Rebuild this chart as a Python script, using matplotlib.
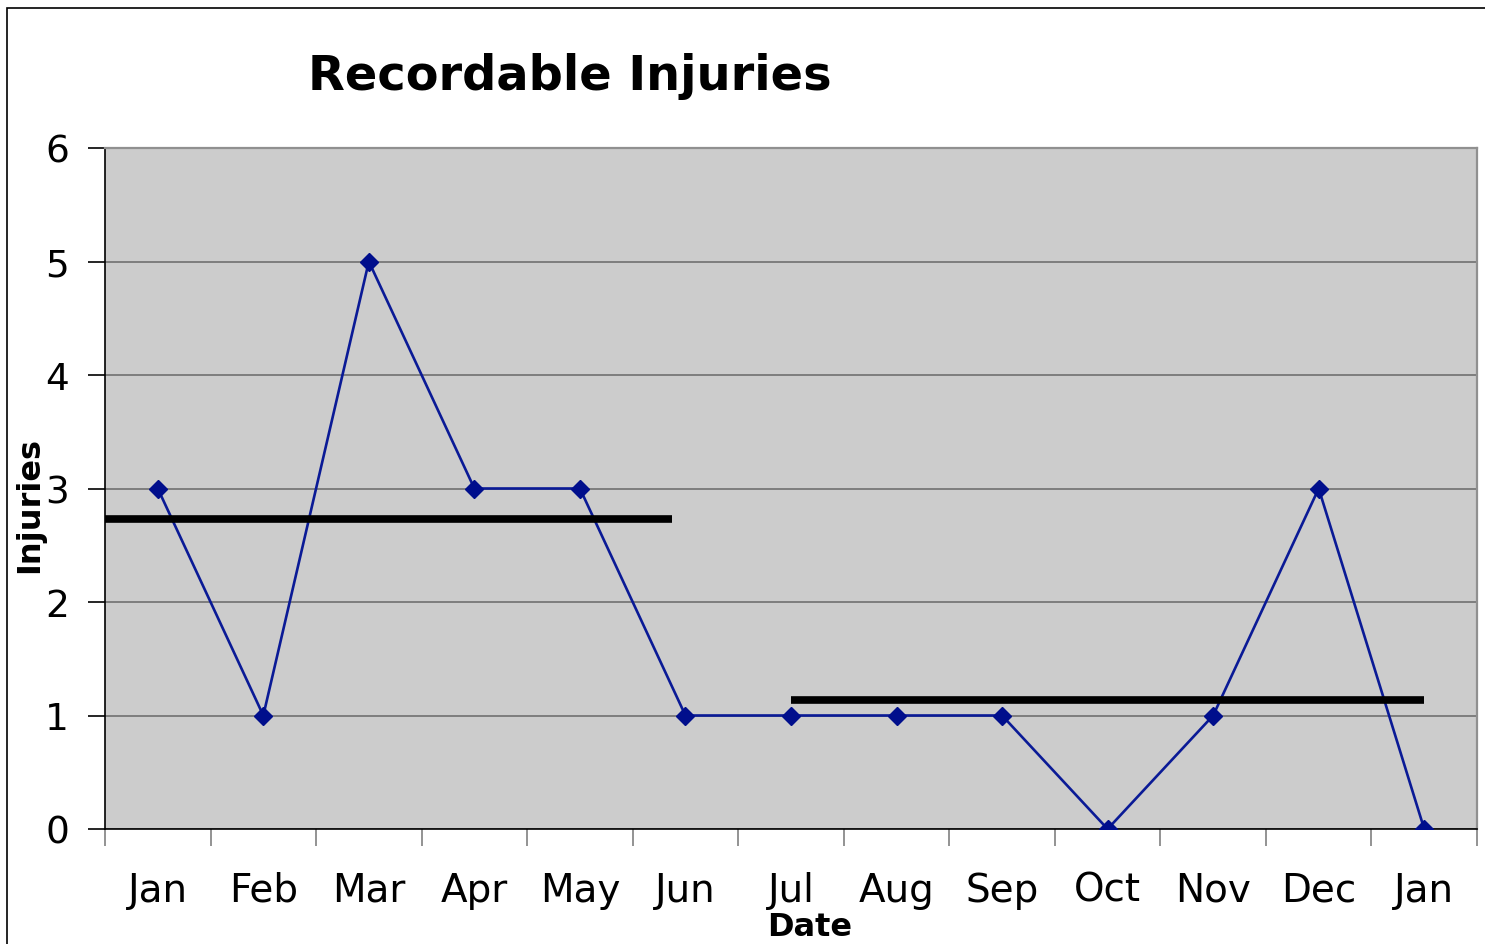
import matplotlib
matplotlib.use("Agg")
import matplotlib.pyplot as plt
from matplotlib.patches import Rectangle

months = ["Jan", "Feb", "Mar", "Apr", "May", "Jun", "Jul", "Aug", "Sep", "Oct", "Nov", "Dec", "Jan"]
injuries = [3, 1, 5, 3, 3, 1, 1, 1, 1, 0, 1, 3, 0]
mean1_value = 2.73
mean1_span = (-0.5, 4.87)
mean2_value = 1.14
mean2_span = (6.0, 12.0)

plt.rcParams['font.family'] = ['DejaVu Sans']

fig = plt.figure(figsize=(14.85, 9.45), dpi=100)
fig.patches.append(Rectangle((7/1485, -0.1), 1.2, (945-9)/945 + 0.1, transform=fig.transFigure,
                             fill=False, edgecolor='black', linewidth=1.2))
ax = fig.add_axes([105/1485, 115/945, 1372/1485, 681/945])
ax.set_facecolor('#CCCCCC')

x = list(range(len(months)))
ax.set_xlim(-0.5, len(months) - 0.5)
ax.set_ylim(0, 6)

ax.grid(axis='y', color='#707070', linewidth=1.2)
ax.set_axisbelow(True)

ax.plot(x, injuries, color='#0A1A96', linewidth=1.9, marker='D', markersize=9,
        markerfacecolor='#000E8C', markeredgecolor='#000E8C', zorder=3)
ax.hlines(mean1_value, mean1_span[0], mean1_span[1], color='black', linewidth=5.5, zorder=4)
ax.hlines(mean2_value, mean2_span[0], mean2_span[1], color='black', linewidth=5.5, zorder=4)

ax.set_yticks(range(0, 7))
ax.set_xticks([i + 0.5 for i in range(-1, len(months))])
ax.set_xticklabels([])
ax.set_xticks(x, minor=True)
ax.set_xticklabels(months, minor=True)
ax.tick_params(axis='x', which='major', length=12, width=1.2, color='#808080', direction='out')
ax.tick_params(axis='x', which='minor', length=0, labelsize=28, pad=30)
ax.tick_params(axis='y', length=12, width=1.2, color='black', labelsize=27, pad=14)

for s in ['left', 'bottom']:
    ax.spines[s].set_color('black')
    ax.spines[s].set_linewidth(1.2)
for s in ['top', 'right']:
    ax.spines[s].set_color('#909090')
    ax.spines[s].set_linewidth(1.6)

fig.text(570/1485, 1 - 76/945, "Recordable Injuries", ha='center', va='center',
         fontsize=34.5, fontweight='bold')
fig.text(30/1485, 1 - 505/945, "Injuries", ha='center', va='center', rotation=90,
         fontsize=23, fontweight='bold')
fig.text(810/1485, 1 - 928/945, "Date", ha='center', va='center',
         fontsize=23, fontweight='bold')

fig.savefig("out.png", dpi=100)
